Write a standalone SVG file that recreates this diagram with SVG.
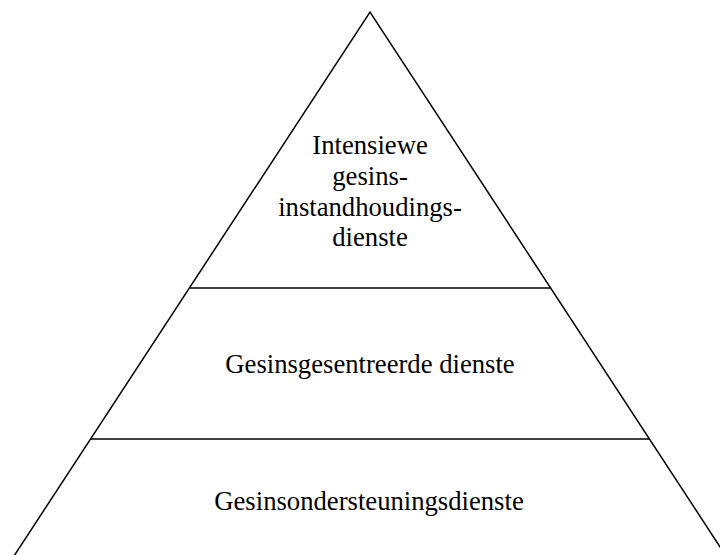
<svg xmlns="http://www.w3.org/2000/svg" width="720" height="555" viewBox="0 0 720 555">
<style>
.ln{stroke:#000;stroke-width:1.5;fill:none}
.t{font-family:"Liberation Serif","Times New Roman",serif;font-size:26.67px;fill:#000;text-anchor:middle}
</style>
<rect width="720" height="555" fill="#fff"/>
<g id="connectors">
<polyline class="ln" points="14,556 370,12 726,556"/>
</g>
<g id="top">
<line class="ln" x1="190" y1="288" x2="550" y2="288"/>
<text class="t" x="370" y="154">Intensiewe</text>
<text class="t" x="370" y="185">gesins-</text>
<text class="t" x="370" y="216">instandhoudings-</text>
<text class="t" x="370" y="246">dienste</text>
</g>
<g id="middle">
<line class="ln" x1="91" y1="439" x2="649" y2="439"/>
<text class="t" x="370" y="373">Gesinsgesentreerde dienste</text>
</g>
<g id="bottom">
<text class="t" x="369" y="510">Gesinsondersteuningsdienste</text>
</g>
</svg>
